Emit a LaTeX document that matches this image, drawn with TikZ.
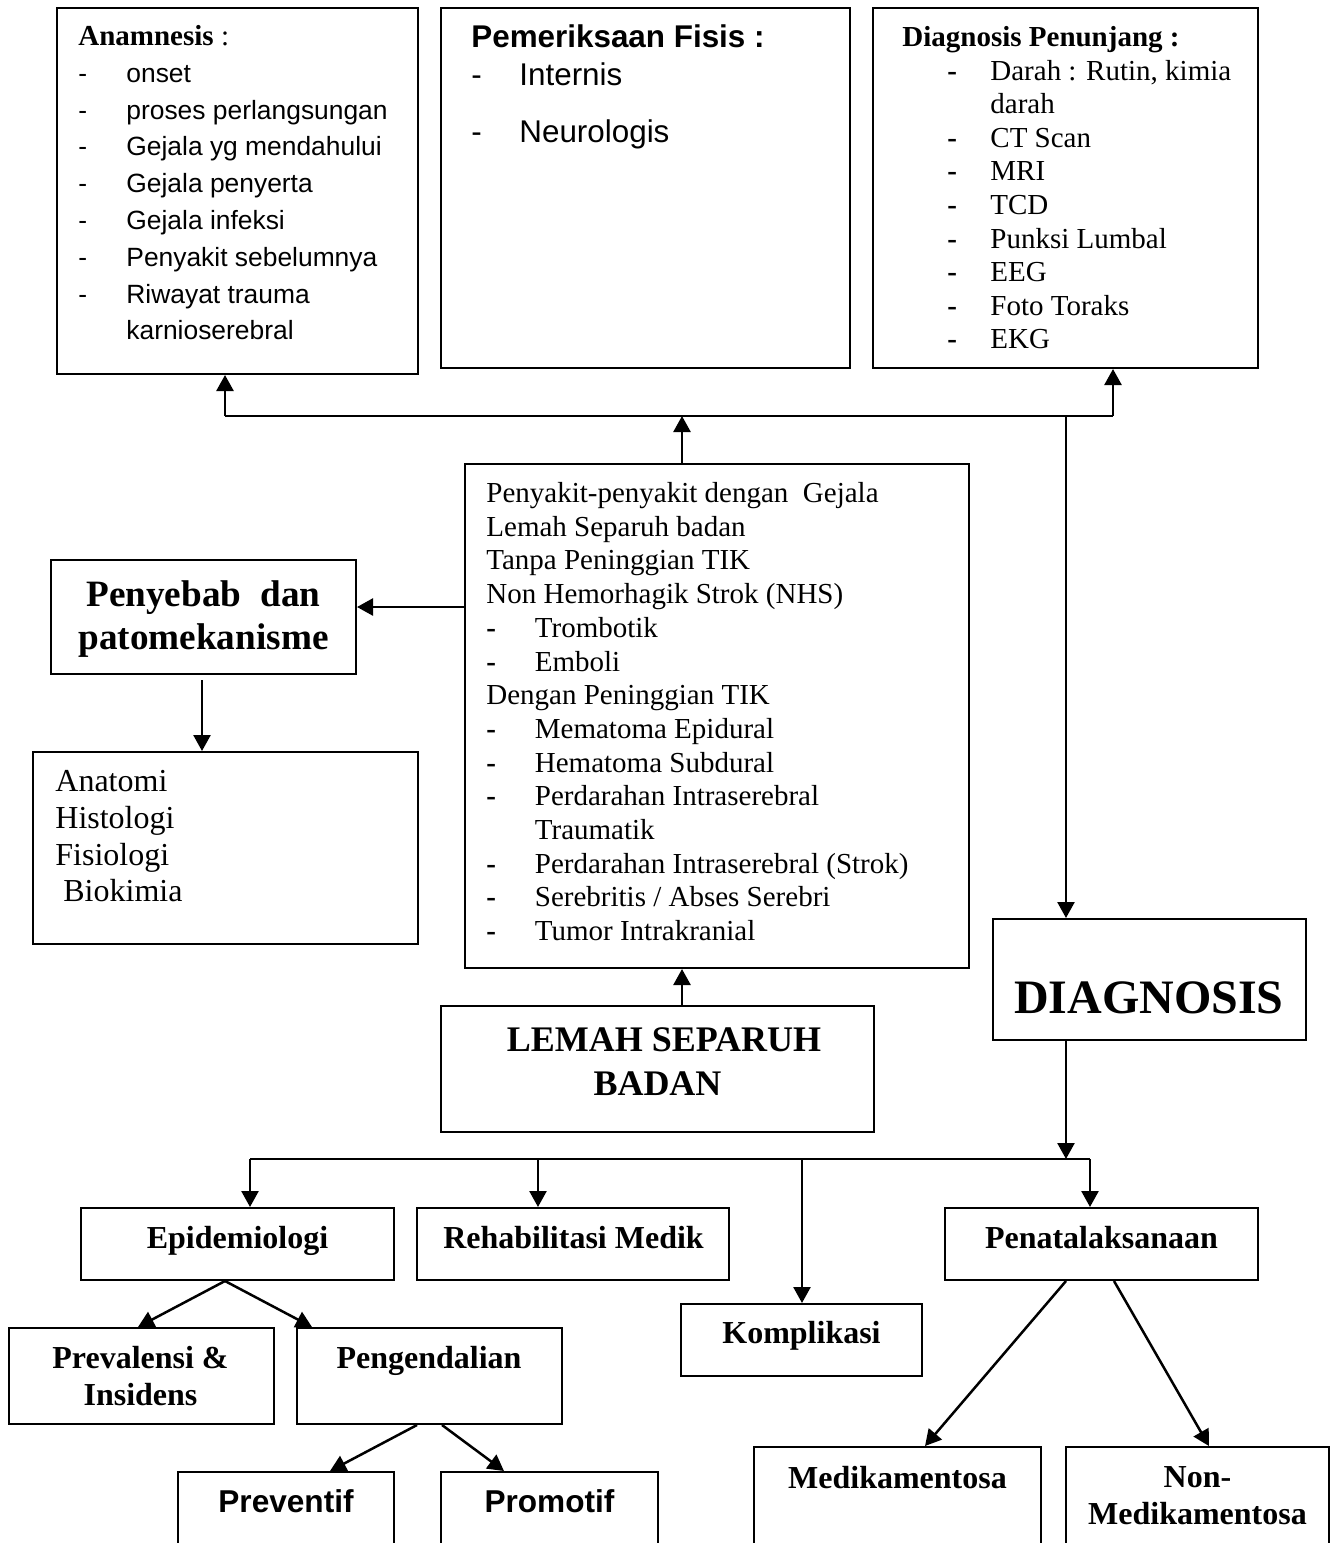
\documentclass[tikz,border=0pt]{standalone}
\usepackage{fontspec}
\setmainfont{Liberation Serif}
\setsansfont{Liberation Sans}
\usetikzlibrary{arrows.meta,positioning,fit}
\tikzset{
  panel/.style={draw=black, line width=1pt, inner sep=0pt},
  flowarrow/.style={-{Triangle[length=8pt,width=8.5pt]}, line width=1.25pt, draw=black},
  busline/.style={line width=1.25pt, draw=black},
  boxtitle/.style={font=\bfseries\fontsize{16}{18.5}\selectfont, inner sep=0pt, anchor=base},
  sanstitle/.style={font=\sffamily\bfseries\fontsize{15.8}{18}\selectfont, inner sep=0pt, anchor=base},
  listtext/.style={align=left, inner sep=0pt, anchor=north west}
}
\newcommand{\dashitem}[1]{\makebox[24pt][l]{-}#1}
\newcommand{\penitem}[1]{\hspace*{22.5pt}\makebox[21.5pt][l]{\textbf{-}}#1}
\newcommand{\sakititem}[1]{\makebox[24.25pt][l]{\textbf{-}}#1}
\begin{document}
\begin{tikzpicture}[x=0.5pt, y=-0.5pt]
  \useasboundingbox (0,0) rectangle (1335,1543);
  \clip (0,0) rectangle (1335,1543);

  % boxes
  \node[panel, fit={(57,8) (418,374)}] (anam) {};
  \node[panel, fit={(441,8) (850,368)}] (fisis) {};
  \node[panel, fit={(873,8) (1258,368)}] (penunjang) {};
  \node[panel, fit={(465,464) (969,968)}] (sakit) {};
  \node[panel, fit={(51,560) (356,674)}] (penyebab) {};
  \node[panel, fit={(33,752) (418,944)}] (anatomi) {};
  \node[panel, fit={(441,1006) (874,1132)}] (lemah) {};
  \node[panel, fit={(993,919) (1306,1040)}] (diag) {};
  \node[panel, fit={(81,1208) (394,1280)}] (epi) {};
  \node[panel, fit={(417,1208) (729,1280)}] (rehab) {};
  \node[panel, fit={(681,1304) (922,1376)}] (kompl) {};
  \node[panel, fit={(945,1208) (1258,1280)}] (penata) {};
  \node[panel, fit={(9,1328) (274,1424)}] (preval) {};
  \node[panel, fit={(297,1328) (562,1424)}] (pengend) {};
  \node[panel, fit={(178,1472) (394,1560)}] (prevent) {};
  \node[panel, fit={(441,1472) (658,1560)}] (promot) {};
  \node[panel, fit={(754,1447) (1041,1560)}] (medik) {};
  \node[panel, fit={(1066,1447) (1329,1560)}] (nonmedik) {};

  % texts
  \node[listtext, font=\sffamily\fontsize{13.2}{18.4}\selectfont] (anamtxt) at (78,25)
    {{\rmfamily\fontsize{14.5}{18.4}\selectfont\textbf{Anamnesis} :}\\
     \dashitem{onset}\\
     \dashitem{proses perlangsungan}\\
     \dashitem{Gejala yg mendahului}\\
     \dashitem{Gejala penyerta}\\
     \dashitem{Gejala infeksi}\\
     \dashitem{Penyakit sebelumnya}\\
     \dashitem{Riwayat trauma}\\
     \hspace*{24pt}karnioserebral};
  \node[listtext, font=\sffamily\fontsize{15.7}{19}\selectfont] (fisistxt) at (471,24.5)
    {\textbf{Pemeriksaan Fisis :}\\
     \dashitem{Internis}\\[9.5pt]
     \dashitem{Neurologis}};
  \node[listtext, font=\fontsize{14.5}{16.8}\selectfont] (penunjangtxt) at (902,26)
    {\textbf{Diagnosis Penunjang :}\\
     \penitem{Darah : Rutin, kimia}\\
     \hspace*{44pt}darah\\
     \penitem{CT Scan}\\
     \penitem{MRI}\\
     \penitem{TCD}\\
     \penitem{Punksi Lumbal}\\
     \penitem{EEG}\\
     \penitem{Foto Toraks}\\
     \penitem{EKG}};
  \node[listtext, font=\fontsize{14.5}{16.85}\selectfont] (sakittxt) at (486,482)
    {Penyakit-penyakit dengan\ \ Gejala\\
     Lemah Separuh badan\\
     Tanpa Peninggian TIK\\
     Non Hemorhagik Strok (NHS)\\
     \sakititem{Trombotik}\\
     \sakititem{Emboli}\\
     Dengan Peninggian TIK\\
     \sakititem{Mematoma Epidural}\\
     \sakititem{Hematoma Subdural}\\
     \sakititem{Perdarahan Intraserebral}\\
     \hspace*{24.25pt}Traumatik\\
     \sakititem{Perdarahan Intraserebral (Strok)}\\
     \sakititem{Serebritis / Abses Serebri}\\
     \sakititem{Tumor Intrakranial}};
  \node[listtext, font=\fontsize{16}{18.35}\selectfont] (anatomitxt) at (55,770)
    {Anatomi\\ Histologi\\ Fisiologi\\ \hspace*{4pt}Biokimia};
  \node[anchor=north, align=center, inner sep=0pt, font=\bfseries\fontsize{18.6}{21.5}\selectfont]
    (penyebabtxt) at (203.5,580) {Penyebab\hspace{9.6pt}dan\\ patomekanisme};
  \node[anchor=north, align=center, inner sep=0pt, font=\bfseries\fontsize{18}{22}\selectfont]
    (lemahtxt) at (657.5,1027) {\hspace*{6.5pt}LEMAH SEPARUH\\ BADAN};
  \node[anchor=base, inner sep=0pt, font=\bfseries\fontsize{24}{28}\selectfont] (diagtxt) at (1149,1013) {DIAGNOSIS};
  \node[boxtitle] (epitxt) at (237.5,1248) {Epidemiologi};
  \node[boxtitle] (rehabtxt) at (573.5,1248) {Rehabilitasi Medik};
  \node[boxtitle] (penatatxt) at (1101.5,1248) {Penatalaksanaan};
  \node[boxtitle] (kompltxt) at (801.5,1343) {Komplikasi};
  \node[boxtitle, anchor=north, align=center] (prevaltxt) at (140.5,1346) {Prevalensi \&\\ Insidens};
  \node[boxtitle] (pengendtxt) at (429,1368) {Pengendalian};
  \node[sanstitle] (preventtxt) at (286,1512) {Preventif};
  \node[sanstitle] (promottxt) at (549.5,1512) {Promotif};
  \node[boxtitle] (mediktxt) at (897.5,1488) {Medikamentosa};
  \node[boxtitle, anchor=north, align=center] (nonmediktxt) at (1197.5,1466.5) {Non-\\ Medikamentosa};

  % upper bus
  \coordinate (busL) at (225,416);
  \coordinate (busM) at (682,416);
  \coordinate (busD) at (1066,416);
  \coordinate (busR) at (1113,416);
  \draw[busline] (busL) -- (busR);
  \draw[flowarrow] (busM |- sakit.north) -- (busM);
  \draw[flowarrow] (busL) -- (busL |- anam.south);
  \draw[flowarrow] (busR) -- (busR |- penunjang.south);
  \draw[flowarrow] (busD) -- (busD |- diag.north);
  \draw[flowarrow] (busM |- lemah.north) -- (busM |- sakit.south);
  \draw[flowarrow] (sakit.west |- 0,607) -- (penyebab.east |- 0,607);
  \draw[flowarrow] ([yshift=-2.5pt]penyebab.south -| 202,0) -- (202,0 |- anatomi.north);

  % lower bus
  \coordinate (lowL) at (250,1159);
  \coordinate (lowB) at (538,1159);
  \coordinate (lowC) at (802,1159);
  \coordinate (lowD) at (1066,1159);
  \coordinate (lowR) at (1090,1159);
  \draw[flowarrow] (lowD |- diag.south) -- (lowD);
  \draw[busline] (lowL) -- (lowR);
  \draw[flowarrow] (lowL) -- (lowL |- epi.north);
  \draw[flowarrow] (lowB) -- (lowB |- rehab.north);
  \draw[flowarrow] (lowC) -- (lowC |- kompl.north);
  \draw[flowarrow] (lowR) -- (lowR |- penata.north);

  % branches
  \draw[flowarrow] (225,0 |- epi.south) -- (138,0 |- preval.north);
  \draw[flowarrow] (225,0 |- epi.south) -- (312,0 |- pengend.north);
  \draw[flowarrow] (417,0 |- pengend.south) -- (330,0 |- prevent.north);
  \draw[flowarrow] (442,0 |- pengend.south) -- (504,0 |- promot.north);
  \draw[flowarrow] (1066,0 |- penata.south) -- (925,0 |- medik.north);
  \draw[flowarrow] (1114,0 |- penata.south) -- (1209,0 |- nonmedik.north);
\end{tikzpicture}
\end{document}
